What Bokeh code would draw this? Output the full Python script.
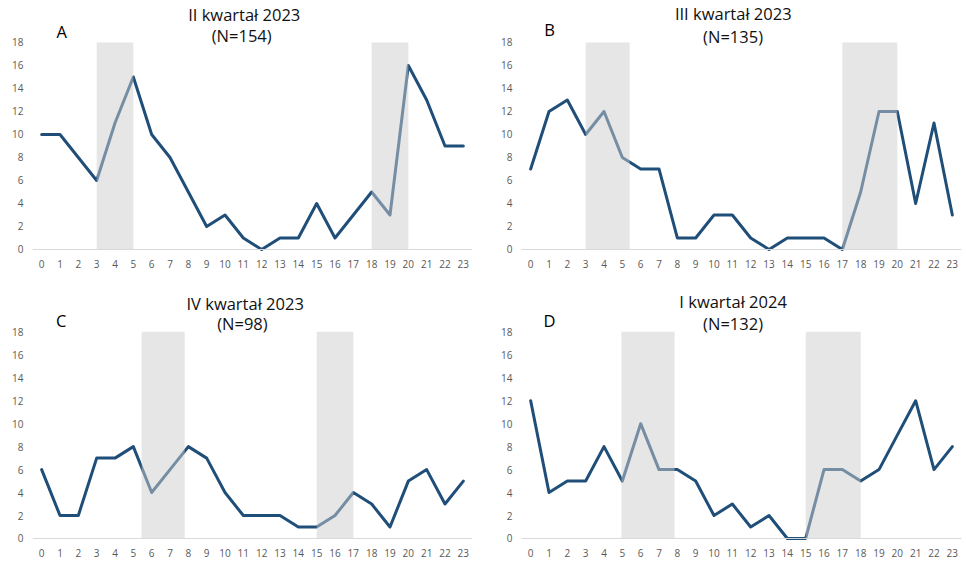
from bokeh.plotting import figure
from bokeh.models import Range1d, FixedTicker, Label, Span
from bokeh.layouts import column, row
from bokeh.embed import file_html
from bokeh.resources import INLINE

# ---------------- data ----------------
hours = [0, 1, 2, 3, 4, 5, 6, 7, 8, 9, 10, 11, 12, 13, 14, 15, 16, 17, 18, 19, 20, 21, 22, 23]
y_ticks = [0, 2, 4, 6, 8, 10, 12, 14, 16, 18]

titles = ["II kwartał 2023", "III kwartał 2023", "IV kwartał 2023", "I kwartał 2024"]
n_labels = ["(N=154)", "(N=135)", "(N=98)", "(N=132)"]
letters = ["A", "B", "C", "D"]

values_A = [10, 10, 8, 6, 11, 15, 10, 8, 5, 2, 3, 1, 0, 1, 1, 4, 1, 3, 5, 3, 16, 13, 9, 9]
values_B = [7, 12, 13, 10, 12, 8, 7, 7, 1, 1, 3, 3, 1, 0, 1, 1, 1, 0, 5, 12, 12, 4, 11, 3]
values_C = [6, 2, 2, 7, 7, 8, 4, 6, 8, 7, 4, 2, 2, 2, 1, 1, 2, 4, 3, 1, 5, 6, 3, 5]
values_D = [12, 4, 5, 5, 8, 5, 10, 6, 6, 5, 2, 3, 1, 2, 0, 0, 6, 6, 5, 6, 9, 12, 6, 8]

shade_start_A = [3, 18]
shade_end_A = [5, 20]
shade_start_B = [3, 17]
shade_end_B = [5.4, 20]
shade_start_C = [5.45, 15]
shade_end_C = [7.8, 17]
shade_start_D = [4.95, 15]
shade_end_D = [7.85, 18]
shade_top = 18

# ---------------- style ----------------
LINE = "#1f4e79"
SHADE = "#cdcdcd"
TICK = "#595959"
BASE = "#d9d9d9"
FONT = "Open Sans"


def panel(vals, s0, s1, title, nlab, letter, geom):
    (w, h, bl, br, bb, ytop, tx1, tx2, ty1, ty2, lx, ly) = geom
    p = figure(width=w, height=h, output_backend="svg", toolbar_location=None,
               x_range=Range1d(-0.5, 23.5), y_range=Range1d(-0.35, ytop),
               min_border_left=bl, min_border_right=br,
               min_border_top=0, min_border_bottom=bb, title=None)
    p.outline_line_color = None
    p.background_fill_color = "white"
    p.border_fill_color = "white"
    p.xgrid.visible = False
    p.ygrid.visible = False
    for ax in (p.xaxis[0], p.yaxis[0]):
        ax.axis_line_color = None
        ax.major_tick_line_color = None
        ax.minor_tick_line_color = None
        ax.major_tick_out = 0
        ax.major_tick_in = 0
        ax.minor_tick_out = 0
        ax.minor_tick_in = 0
        ax.major_label_text_font = FONT
        ax.major_label_text_font_size = "10px"
        ax.major_label_text_color = TICK
    p.xaxis[0].ticker = FixedTicker(ticks=hours)
    p.yaxis[0].ticker = FixedTicker(ticks=y_ticks)
    p.xaxis[0].major_label_standoff = 6
    p.yaxis[0].major_label_standoff = 9

    p.line(hours, vals, line_color=LINE, line_width=3,
           line_join="round", line_cap="round")
    p.quad(left=s0, right=s1, bottom=[0] * len(s0), top=[shade_top] * len(s0),
           fill_color=SHADE, fill_alpha=0.5, line_color=None)
    p.add_layout(Span(location=0, dimension="width", line_color=BASE, line_width=1))

    p.add_layout(Label(x=tx1, y=ty1, text=title, text_align="center", text_baseline="middle",
                       text_font=FONT, text_font_size="16.5px", text_color="#111111"))
    p.add_layout(Label(x=tx2, y=ty2, text=nlab, text_align="center", text_baseline="middle",
                       text_font=FONT, text_font_size="16.5px", text_color="#111111"))
    p.add_layout(Label(x=lx, y=ly, text=letter, text_align="center", text_baseline="middle",
                       text_font=FONT, text_font_size="16.5px", text_color="#000000"))
    return p


#          w    h   bl  br  bb  ytop   tx1    tx2    ty1    ty2    lx    ly
geom_A = (480, 290, 32, 8, 37, 21.65, 11.05, 10.91, 20.47, 18.62, 1.09, 18.92)
geom_B = (486, 290, 41, 5, 37, 21.65, 11.05, 11.04, 20.56, 18.56, 1.03, 19.10)
geom_C = (480, 273, 32, 8, 21, 21.60, 11.10, 10.95, 20.43, 18.71, 1.06, 19.00)
geom_D = (486, 273, 41, 5, 21, 21.60, 11.04, 11.04, 20.63, 18.71, 1.03, 18.96)

pA = panel(values_A, shade_start_A, shade_end_A, titles[0], n_labels[0], letters[0], geom_A)
pB = panel(values_B, shade_start_B, shade_end_B, titles[1], n_labels[1], letters[1], geom_B)
pC = panel(values_C, shade_start_C, shade_end_C, titles[2], n_labels[2], letters[2], geom_C)
pD = panel(values_D, shade_start_D, shade_end_D, titles[3], n_labels[3], letters[3], geom_D)

layout = column(row(pA, pB, spacing=0), row(pC, pD, spacing=0), spacing=0)

open("out.html", "w").write(file_html(layout, INLINE))
